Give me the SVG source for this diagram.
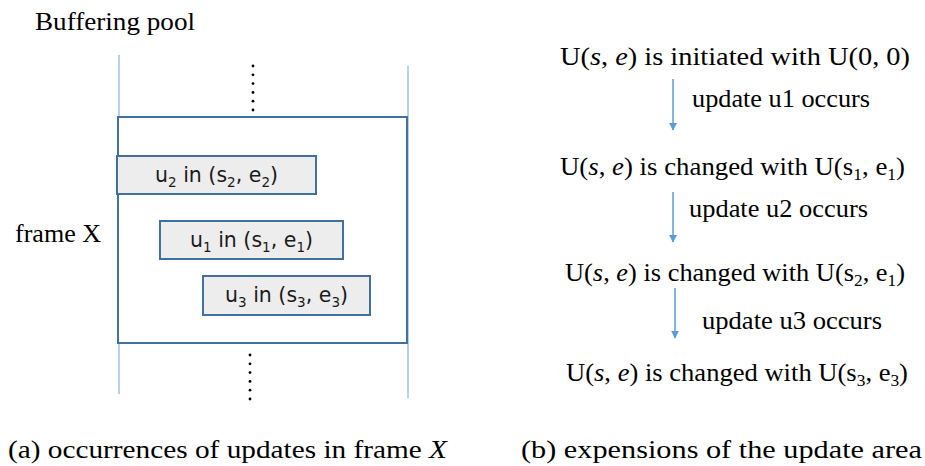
<svg xmlns="http://www.w3.org/2000/svg" width="925" height="466" viewBox="0 0 925 466">
<defs>
<style>
.serif{font-family:"Liberation Serif","Times New Roman",serif;fill:#000;font-size:26px}
.sans{font-family:"DejaVu Sans",Verdana,sans-serif;font-size:20.5px;fill:#1a1a1a}
.vline{stroke:#9DC3E6;stroke-width:1.5;fill:none}
.frame{stroke:#41719C;stroke-width:2;fill:#fff}
.box{stroke:#41719C;stroke-width:2;fill:#EDEDED}
.arrow{stroke:#5B9BD5;stroke-width:1.5;fill:none}
</style>
<marker id="ah" viewBox="0 0 10 10" refX="9" refY="5" markerWidth="8" markerHeight="8" markerUnits="userSpaceOnUse" orient="auto">
<path d="M0,0 L10,5 L0,10 z" fill="#5B9BD5"/>
</marker>
<g id="dots">
<circle cx="0" cy="0" r="1.4"/><circle cx="0" cy="8.8" r="1.4"/><circle cx="0" cy="17.6" r="1.4"/><circle cx="0" cy="26.4" r="1.4"/><circle cx="0" cy="35.2" r="1.4"/><circle cx="0" cy="44" r="1.4"/>
</g>
</defs>
<rect width="925" height="466" fill="#fff"/>

<g id="pool">
<text class="serif" x="35" y="30" textLength="160" lengthAdjust="spacingAndGlyphs">Buffering pool</text>
<line class="vline" x1="119" y1="55" x2="119" y2="394"/>
<line class="vline" x1="408" y1="66" x2="408" y2="398"/>
<use href="#dots" x="253" y="66"/>
<use href="#dots" x="250" y="355"/>
</g>

<g id="frameX">
<rect class="frame" x="118" y="117" width="289" height="226"/>
<text class="serif" x="15" y="242" textLength="86" lengthAdjust="spacingAndGlyphs">frame X</text>
</g>

<g id="u2">
<rect class="box" x="117" y="156" width="199" height="38"/>
<text class="sans" x="216.5" y="182" text-anchor="middle" textLength="123" lengthAdjust="spacingAndGlyphs">u<tspan font-size="13.5" dy="5">2</tspan><tspan dy="-5"> in (s</tspan><tspan font-size="13.5" dy="5">2</tspan><tspan dy="-5">, e</tspan><tspan font-size="13.5" dy="5">2</tspan><tspan dy="-5">)</tspan></text>
</g>
<g id="u1">
<rect class="box" x="160" y="221" width="183" height="38"/>
<text class="sans" x="251.5" y="247" text-anchor="middle" textLength="123" lengthAdjust="spacingAndGlyphs">u<tspan font-size="13.5" dy="5">1</tspan><tspan dy="-5"> in (s</tspan><tspan font-size="13.5" dy="5">1</tspan><tspan dy="-5">, e</tspan><tspan font-size="13.5" dy="5">1</tspan><tspan dy="-5">)</tspan></text>
</g>
<g id="u3">
<rect class="box" x="203" y="276" width="167" height="39"/>
<text class="sans" x="286.5" y="302" text-anchor="middle" textLength="123" lengthAdjust="spacingAndGlyphs">u<tspan font-size="13.5" dy="5">3</tspan><tspan dy="-5"> in (s</tspan><tspan font-size="13.5" dy="5">3</tspan><tspan dy="-5">, e</tspan><tspan font-size="13.5" dy="5">3</tspan><tspan dy="-5">)</tspan></text>
</g>

<g id="s0"><text class="serif" x="560" y="65" textLength="350" lengthAdjust="spacingAndGlyphs">U(<tspan font-style="italic">s</tspan>, <tspan font-style="italic">e</tspan>) is initiated with U(0, 0)</text></g>
<g id="s1"><text class="serif" x="560" y="175" textLength="345" lengthAdjust="spacingAndGlyphs">U(<tspan font-style="italic">s</tspan>, <tspan font-style="italic">e</tspan>) is changed with U(s<tspan font-size="17" dy="5">1</tspan><tspan dy="-5">, e</tspan><tspan font-size="17" dy="5">1</tspan><tspan dy="-5">)</tspan></text></g>
<g id="s2"><text class="serif" x="565" y="281" textLength="340" lengthAdjust="spacingAndGlyphs">U(<tspan font-style="italic">s</tspan>, <tspan font-style="italic">e</tspan>) is changed with U(s<tspan font-size="17" dy="5">2</tspan><tspan dy="-5">, e</tspan><tspan font-size="17" dy="5">1</tspan><tspan dy="-5">)</tspan></text></g>
<g id="s3"><text class="serif" x="566" y="381" textLength="342" lengthAdjust="spacingAndGlyphs">U(<tspan font-style="italic">s</tspan>, <tspan font-style="italic">e</tspan>) is changed with U(s<tspan font-size="17" dy="5">3</tspan><tspan dy="-5">, e</tspan><tspan font-size="17" dy="5">3</tspan><tspan dy="-5">)</tspan></text></g>

<g id="connectors">
<line class="arrow" x1="673" y1="79" x2="673" y2="130" marker-end="url(#ah)"/>
<line class="arrow" x1="673" y1="192" x2="673" y2="242" marker-end="url(#ah)"/>
<line class="arrow" x1="675" y1="288" x2="675" y2="338" marker-end="url(#ah)"/>
<text class="serif" x="692" y="107" textLength="178" lengthAdjust="spacingAndGlyphs">update u1 occurs</text>
<text class="serif" x="689" y="217" textLength="179" lengthAdjust="spacingAndGlyphs">update u2 occurs</text>
<text class="serif" x="702" y="329" textLength="180" lengthAdjust="spacingAndGlyphs">update u3 occurs</text>
</g>

<g id="captions">
<text class="serif" x="8" y="458" font-size="25" textLength="439" lengthAdjust="spacingAndGlyphs">(a) occurrences of updates in frame <tspan font-style="italic">X</tspan></text>
<text class="serif" x="521" y="458" font-size="25" textLength="401" lengthAdjust="spacingAndGlyphs">(b) expensions of the update area</text>
</g>
</svg>
